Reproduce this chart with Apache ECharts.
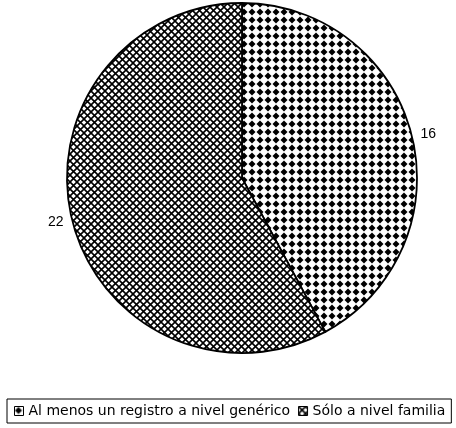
<!DOCTYPE html>
<html>
<head>
<meta charset="utf-8">
<script src="https://cdn.jsdelivr.net/npm/echarts@6/dist/echarts.min.js"></script>
<style>
  html, body { margin: 0; padding: 0; background: #fff; }
  #main { width: 456px; height: 428px; }
</style>
</head>
<body>
<div id="main"></div>
<script>
// datos del gráfico
var categories = ['Al menos un registro a nivel genérico', 'Sólo a nivel familia'];
var values = [16, 22];

// trama de rombos (8x8)
function diamondPattern() {
  var c = document.createElement('canvas');
  c.width = 8; c.height = 8;
  var ctx = c.getContext('2d');
  ctx.fillStyle = '#fff';
  ctx.fillRect(0, 0, 8, 8);
  ctx.fillStyle = '#000';
  ctx.beginPath();
  ctx.moveTo(4, 0.5);
  ctx.lineTo(7.5, 4);
  ctx.lineTo(4, 7.5);
  ctx.lineTo(0.5, 4);
  ctx.closePath();
  ctx.fill();
  return c;
}

// trama cruzada (7x7)
function crossPattern() {
  var c = document.createElement('canvas');
  c.width = 7; c.height = 7;
  var ctx = c.getContext('2d');
  ctx.fillStyle = '#fff';
  ctx.fillRect(0, 0, 7, 7);
  ctx.strokeStyle = '#000';
  ctx.lineWidth = 1.6;
  ctx.beginPath();
  ctx.moveTo(-1, -1); ctx.lineTo(8, 8);
  ctx.moveTo(8, -1); ctx.lineTo(-1, 8);
  ctx.stroke();
  return c;
}

var patterns = [
  { image: diamondPattern(), repeat: 'repeat' },
  { image: crossPattern(), repeat: 'repeat' }
];

var chart = echarts.init(document.getElementById('main'));
chart.setOption({
  backgroundColor: '#fff',
  animation: false,
  legend: {
    data: categories,
    left: 7,
    top: 399,
    padding: [5, 6, 5, 7],
    borderColor: '#000',
    borderWidth: 1,
    itemWidth: 9,
    itemHeight: 9,
    itemGap: 8,
    icon: 'rect',
    itemStyle: { borderColor: '#000', borderWidth: 1 },
    textStyle: { fontFamily: 'DejaVu Sans', fontSize: 14, color: '#000' }
  },
  series: [{
    type: 'pie',
    center: [242, 178],
    radius: 175,
    startAngle: 90,
    clockwise: true,
    silent: true,
    itemStyle: { borderColor: '#000', borderWidth: 1.8 },
    label: {
      show: true,
      position: 'outside',
      formatter: '{c}',
      fontFamily: 'Liberation Sans',
      fontSize: 14,
      color: '#000'
    },
    labelLine: { show: false, length: 4, length2: 0 },
    data: values.map(function (v, i) {
      return { name: categories[i], value: v, itemStyle: { color: patterns[i] } };
    })
  }]
});
</script>
</body>
</html>
